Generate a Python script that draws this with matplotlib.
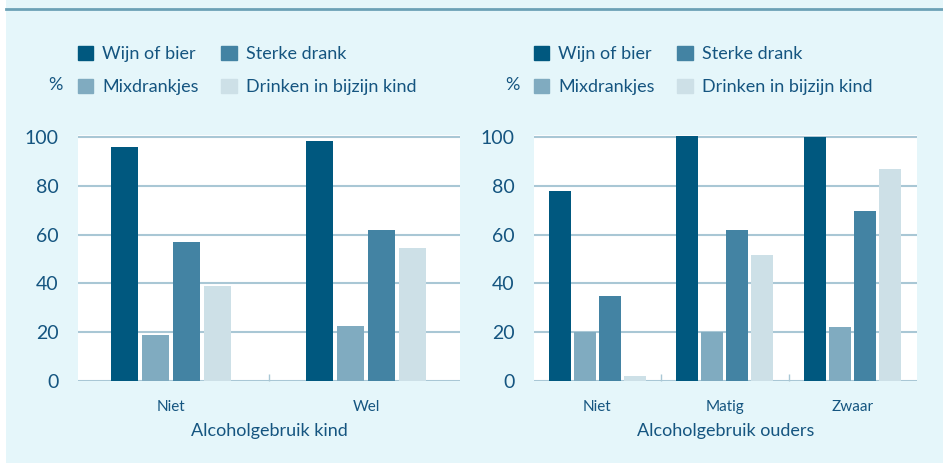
import numpy as np
import matplotlib.pyplot as plt
from matplotlib.patches import Patch, Rectangle
from matplotlib.lines import Line2D

plt.rcParams['font.family'] = ['Lato', 'DejaVu Sans']

series = ['Wijn of bier', 'Mixdrankjes', 'Sterke drank', 'Drinken in bijzijn kind']
colors = ['#00587f', '#80abc0', '#4383a3', '#cde0e7']

kind_cats = ['Niet', 'Wel']
kind_vals = [[96, 98.5],    # Wijn of bier
             [19, 22.5],    # Mixdrankjes
             [57, 62],      # Sterke drank
             [39, 54.5]]    # Drinken in bijzijn kind

ouders_cats = ['Niet', 'Matig', 'Zwaar']
ouders_vals = [[78, 100.5, 100],
               [20, 20, 22],
               [35, 62, 69.5],
               [2, 51.5, 87]]

bg = '#e5f6fa'
txt = '#155580'
grid_c = '#a9c7d5'

fig = plt.figure(figsize=(9.43, 4.63), dpi=100, facecolor='white')
# light panel with a thin white strip on the left, as in the original
fig.add_artist(Rectangle((6 / 943, 0), 1, 1, transform=fig.transFigure,
                         facecolor=bg, edgecolor='none', zorder=-10))
fig.add_artist(Line2D([6 / 943, 1], [1 - 9 / 463, 1 - 9 / 463], color='#6ca1b6', lw=2))


def panel(rect, cats, vals, width, step, xlabel, xlim):
    ax = fig.add_axes(rect)
    ax.set_facecolor('white')
    x = np.arange(len(cats))
    for i, (name, v, c) in enumerate(zip(series, vals, colors)):
        ax.bar(x + (i - 1.5) * step, v, width, color=c, label=name, zorder=3)
    ax.set_xlim(*xlim)
    ax.set_ylim(0, 100.8)
    ax.set_yticks([0, 20, 40, 60, 80, 100])
    ax.set_xticks(x)
    ax.set_xticklabels(cats)
    ax.set_xticks(np.arange(len(cats) - 1) + 0.5, minor=True)
    ax.tick_params(axis='x', which='major', length=0, pad=14, labelsize=11, labelcolor=txt)
    ax.tick_params(axis='x', which='minor', direction='in', length=5, color=grid_c, width=1)
    ax.tick_params(axis='y', length=0, pad=14, labelsize=14, labelcolor=txt)
    ax.grid(axis='y', color=grid_c, lw=1.5, zorder=0)
    for s in ax.spines.values():
        s.set_visible(False)
    ax.set_xlabel(xlabel, fontsize=13, color=txt, labelpad=6)
    handles = [Patch(color=c) for c in colors]
    ax.legend(handles, series, ncol=2, loc='upper left', bbox_to_anchor=(0, 1.362),
              frameon=False, fontsize=13, labelcolor=txt, borderpad=0, borderaxespad=0,
              handlelength=0.85, handleheight=0.85, handletextpad=0.5,
              labelspacing=0.9, columnspacing=1.25)
    return ax


ax1 = panel([78 / 943, 82 / 463, 382 / 943, 246 / 463], kind_cats, kind_vals,
            27 / 195, 31 / 195, 'Alcoholgebruik kind', (-0.477, 1.482))
ax2 = panel([534 / 943, 82 / 463, 383 / 943, 246 / 463], ouders_cats, ouders_vals,
            22 / 127.7, 25 / 127.7, 'Alcoholgebruik ouders', (-0.495, 2.505))

fig.text(55 / 943, 1 - 85 / 463, '%', fontsize=13, color=txt, ha='center', va='center')
fig.text(512 / 943, 1 - 85 / 463, '%', fontsize=13, color=txt, ha='center', va='center')

fig.savefig('out.png', dpi=100, facecolor='white')
